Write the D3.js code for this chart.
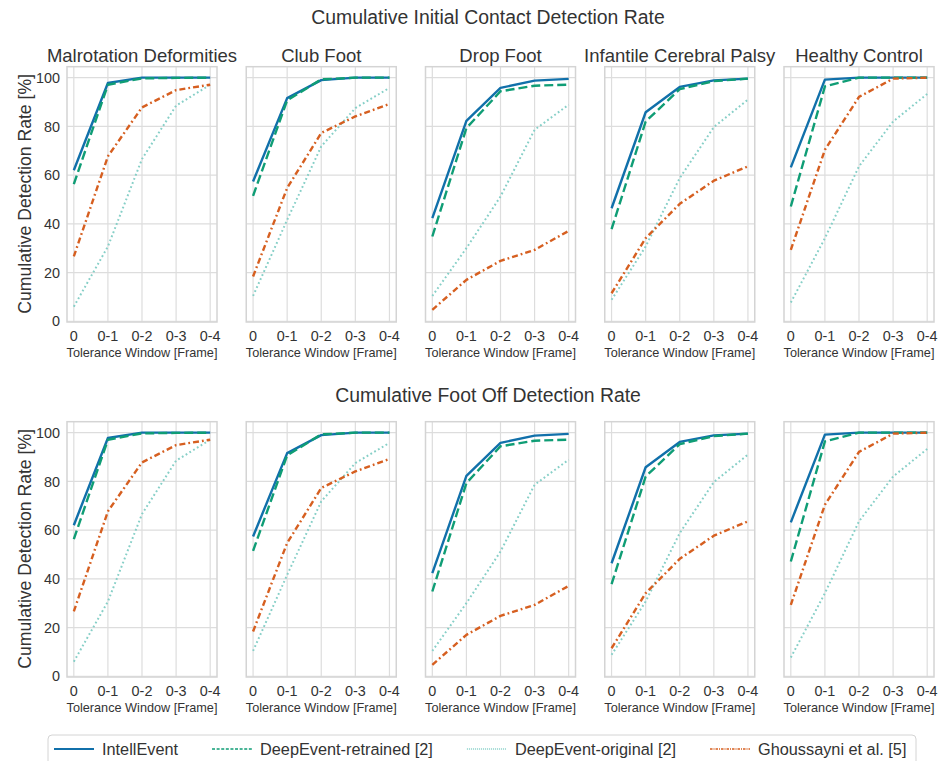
<!DOCTYPE html>
<html>
<head>
<meta charset="utf-8">
<script src="https://cdn.jsdelivr.net/npm/d3@7/dist/d3.min.js"></script>
<style>
  body { margin: 0; background: #fff; }
  text { font-family: "Liberation Sans", Arial, sans-serif; fill: #333; }
</style>
</head>
<body>
<div id="chart"></div>
<script>
// tolerance windows (x categories) and patient groups (panels)
const windows = ["0", "0-1", "0-2", "0-3", "0-4"];
const groups = ["Malrotation Deformities", "Club Foot", "Drop Foot", "Infantile Cerebral Palsy", "Healthy Control"];
const yTicks = [0, 20, 40, 60, 80, 100];

// cumulative detection rate [%] per group
const intellEvent = [
  [62.0, 97.8, 100, 100, 100],
  [57.4, 91.6, 99.0, 100, 100],
  [42.3, 82.3, 95.8, 98.8, 99.5],
  [46.4, 85.8, 96.2, 98.9, 99.6],
  [63.2, 99.2, 100, 100, 100]
];
const deepEventRetrained = [
  [56.3, 97.1, 99.7, 99.9, 100],
  [51.5, 90.7, 99.3, 100, 100],
  [34.8, 79.3, 94.4, 96.7, 97.1],
  [37.8, 82.0, 95.3, 98.6, 99.6],
  [47.1, 96.4, 100, 100, 100]
];
const deepEventOriginal = [
  [6.0, 30.7, 66.6, 88.5, 97.1],
  [10.4, 41.6, 71.8, 87.5, 95.8],
  [10.4, 30.0, 51.2, 78.6, 88.9],
  [8.8, 30.7, 58.8, 79.7, 91.0],
  [7.7, 34.1, 63.6, 82.0, 93.3]
];
const ghoussayni = [
  [26.6, 67.7, 87.8, 94.9, 97.1],
  [18.4, 54.7, 77.3, 84.1, 89.2],
  [4.7, 17.0, 24.8, 29.3, 37.1],
  [11.5, 34.1, 48.2, 57.7, 63.6],
  [29.3, 70.4, 92.1, 99.6, 100]
];

// the two rows show the same curves in the source figure
const rowTitles = ["Cumulative Initial Contact Detection Rate", "Cumulative Foot Off Detection Rate"];

const series = [
  { name: "IntellEvent", data: intellEvent, color: "#1170aa", width: 2.4, dash: null, legDash: null, legWidth: 2.2 },
  { name: "DeepEvent-retrained [2]", data: deepEventRetrained, color: "#0f9d75", width: 2.4, dash: "9,4", legDash: "3,1.6", legWidth: 1.6 },
  { name: "DeepEvent-original [2]", data: deepEventOriginal, color: "#86cfc7", width: 2, dash: "1.8,2.6", legDash: "1,1", legWidth: 1.3 },
  { name: "Ghoussayni et al. [5]", data: ghoussayni, color: "#d65f20", width: 2.4, dash: "6,3,1.8,3", legDash: "2.5,1,1,1", legWidth: 1.5 }
];

const W = 942, H = 761;
const panelW = 150, panelGap = 29.25, left0 = 67;
const rowTop = [66.7, 421.7];
const titleGap = [42.7, 19.4];   // top row also carries the panel titles
const panelH = 255.3;

const svg = d3.select("#chart").append("svg")
  .attr("width", W)
  .attr("height", H);

rowTitles.forEach((title, r) => {
  const top = rowTop[r];

  svg.append("text")
    .attr("x", 488)
    .attr("y", top - titleGap[r])
    .attr("text-anchor", "middle")
    .attr("font-size", "19.4px")
    .text(title);

  const y = d3.scaleLinear().domain([-0.3, 104.5]).range([top + panelH, top]);

  groups.forEach((g, gi) => {
    const x0 = left0 + gi * (panelW + panelGap);
    const x = d3.scalePoint().domain(windows).range([x0, x0 + panelW]).padding(0.2);
    const p = svg.append("g");

    // grid
    p.selectAll(".hg").data(yTicks).enter().append("line")
      .attr("x1", x0).attr("x2", x0 + panelW)
      .attr("y1", d => y(d)).attr("y2", d => y(d))
      .attr("stroke", "#dddddd").attr("stroke-width", 1.2);
    p.selectAll(".vg").data(windows).enter().append("line")
      .attr("x1", d => x(d)).attr("x2", d => x(d))
      .attr("y1", top).attr("y2", top + panelH)
      .attr("stroke", "#dddddd").attr("stroke-width", 1.2);

    // frame
    p.append("rect")
      .attr("x", x0).attr("y", top)
      .attr("width", panelW).attr("height", panelH)
      .attr("fill", "none").attr("stroke", "#d4d4d4").attr("stroke-width", 1.5);

    // series lines
    const line = d3.line().x((d, i) => x(windows[i])).y(d => y(d));
    series.forEach(s => {
      p.append("path")
        .attr("d", line(s.data[gi]))
        .attr("fill", "none")
        .attr("stroke", s.color)
        .attr("stroke-width", s.width)
        .attr("stroke-dasharray", s.dash)
        .attr("stroke-linejoin", "round");
    });

    // x tick labels
    p.selectAll(".xt").data(windows).enter().append("text")
      .attr("x", d => x(d))
      .attr("y", top + panelH + 19)
      .attr("text-anchor", "middle")
      .attr("font-size", "14.4px")
      .text(d => d);

    p.append("text")
      .attr("x", x0 + panelW / 2)
      .attr("y", top + panelH + 34.5)
      .attr("text-anchor", "middle")
      .attr("font-size", "12.7px")
      .text("Tolerance Window [Frame]");

    if (r === 0) {
      p.append("text")
        .attr("x", x0 + panelW / 2)
        .attr("y", top - 5)
        .attr("text-anchor", "middle")
        .attr("font-size", "18.5px")
        .text(g);
    }

    if (gi === 0) {
      p.selectAll(".yt").data(yTicks).enter().append("text")
        .attr("x", x0 - 7)
        .attr("y", d => y(d))
        .attr("dy", "0.36em")
        .attr("text-anchor", "end")
        .attr("font-size", "14.4px")
        .text(d => d);

      p.append("text")
        .attr("transform", `translate(31,${top + panelH / 2 - 0.5}) rotate(-90)`)
        .attr("text-anchor", "middle")
        .attr("font-size", "17.6px")
        .text("Cumulative Detection Rate [%]");
    }
  });
});

// legend
const leg = svg.append("g");
leg.append("rect")
  .attr("x", 48).attr("y", 735)
  .attr("width", 868).attr("height", 40)
  .attr("rx", 4)
  .attr("fill", "#fff")
  .attr("stroke", "#d4d4d4").attr("stroke-width", 1);

let lx = 54;
series.forEach(s => {
  leg.append("line")
    .attr("x1", lx).attr("x2", lx + 40)
    .attr("y1", 749).attr("y2", 749)
    .attr("stroke", s.color)
    .attr("stroke-width", s.legWidth)
    .attr("stroke-dasharray", s.legDash);
  const t = leg.append("text")
    .attr("x", lx + 48)
    .attr("y", 755)
    .attr("font-size", "16.3px")
    .text(s.name);
  lx += 48 + t.node().getComputedTextLength() + 34;
});
</script>
</body>
</html>
